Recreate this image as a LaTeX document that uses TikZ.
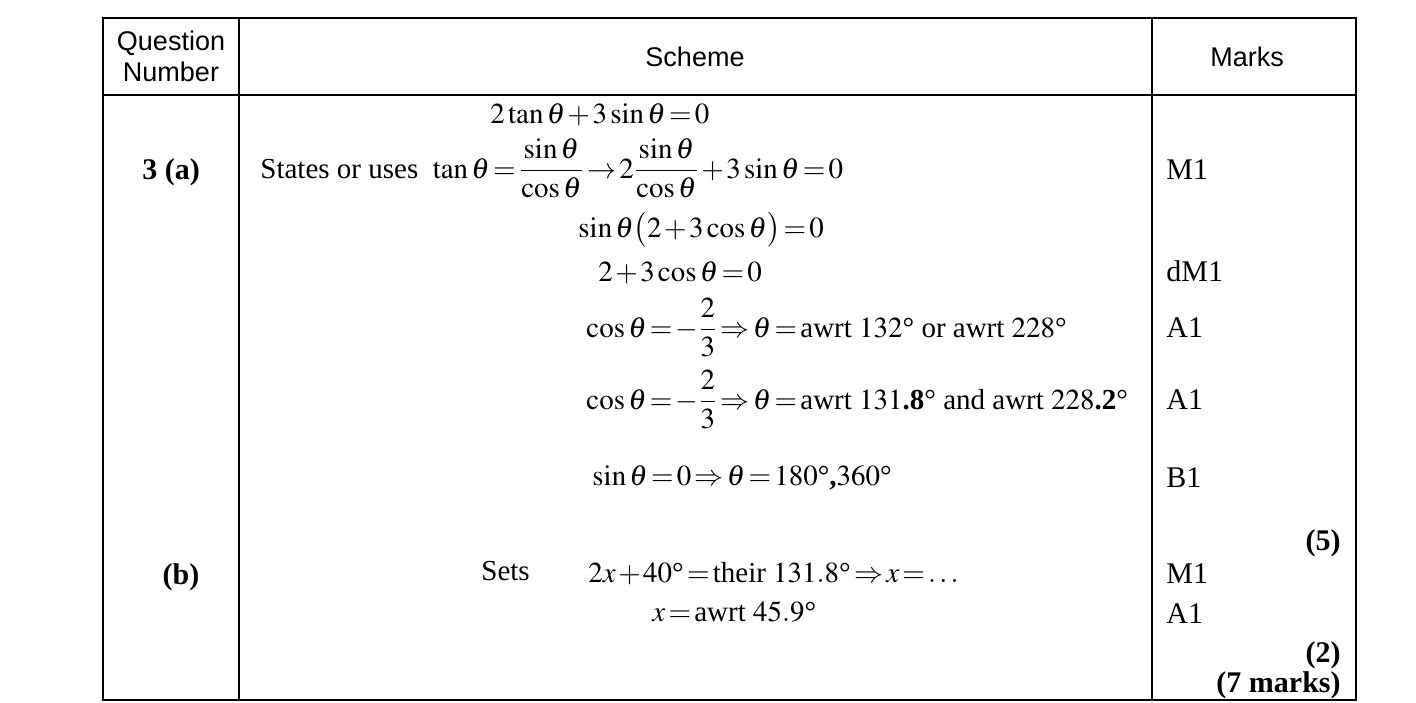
\documentclass[tikz,border=0pt]{standalone}
\usepackage{amsmath,amssymb}
\usepackage{mathptmx}
\usepackage{fontspec}
\setmainfont{Liberation Serif}
\setsansfont{Liberation Sans}
\usepackage{tikz}
\usetikzlibrary{positioning}

% tight spacing in the formulas
\thinmuskip=2mu
\medmuskip=1.5mu plus 1mu
\thickmuskip=2mu plus 2mu
\newcommand{\dg}{\text{°}}

\tikzset{
  head/.style={font=\sffamily\fontsize{13.5}{16}\selectfont},
  sch/.style={anchor=base west, inner sep=0pt, font=\fontsize{14.5}{17}\selectfont},
  mrk/.style={anchor=base west, inner sep=0pt, font=\fontsize{15}{18}\selectfont},
  tot/.style={anchor=base east, inner sep=0pt, font=\bfseries\fontsize{15}{18}\selectfont},
  qn/.style={anchor=base, inner sep=0pt, font=\bfseries\fontsize{15}{18}\selectfont},
  rule/.style={line width=1pt}
}

\begin{document}
\begin{tikzpicture}[x=0.5pt,y=-0.5pt]
    \useasboundingbox (0,0) rectangle (1416,702);

    % Table
    \draw[rule] (103,18) rectangle (1356,700);
    \draw[rule] (103,95) -- (1356,95);
    \draw[rule] (239,18) -- (239,700);
    \draw[rule] (1152,18) -- (1152,700);

    % Header
    \node[head] (question) at (171,43) {Question};
    \node[head] (number) at (171,72) {Number};
    \node[head] (scheme) at (695,57) {Scheme};
    \node[head] (marks) at (1247,57) {Marks};

    % Part (a)
    \node[qn] (qa) at (171,179) {3 (a)};
    \node[sch] (s1) at (490,123) {$2\tan\theta+3\sin\theta=0$};
    \node[sch] (s2) at (260,178) {States or uses\ \ $\tan\theta=\dfrac{\sin\theta}{\cos\theta}\rightarrow 2\dfrac{\sin\theta}{\cos\theta}+3\sin\theta=0$};
    \node[sch] (s3) at (578,237) {$\sin\theta\bigl(2+3\cos\theta\bigr)=0$};
    \node[sch] (s4) at (598,281) {$2+3\cos\theta=0$};
    \node[sch] (s5) at (586,337) {$\cos\theta=-\dfrac{2}{3}\Rightarrow\theta=\text{awrt }132\dg\text{ or awrt }228\dg$};
    \node[sch] (s6) at (586,409) {$\cos\theta=-\dfrac{2}{3}\Rightarrow\theta=\text{awrt }131\textbf{.8}\dg\text{ and awrt }228\textbf{.2}\dg$};
    \node[sch] (s7) at (592,485) {$\sin\theta=0\Rightarrow\theta=180\dg\textbf{,}360\dg$};

    % Part (b)
    \node[qn] (qb) at (181,584) {(b)};
    \node[sch] (sets) at (481,580) {Sets};
    \node[sch] (s8) at (588,582) {$2x+40\dg=\text{their }131.8\dg\Rightarrow x=\ldots$};
    \node[sch] (s9) at (652,621) {$x=\text{awrt }45.9\dg$};

    % Marks
    \foreach \y/\m [count=\i] in {179/M1,281/dM1,337/A1,409/A1,487/B1,583/M1,623/A1}
        \node[mrk] (m\i) at (1166,\y) {\m};
    \node[tot] (t5) at (1341,550) {(5)};
    \node[tot] (t2) at (1341,662) {(2)};
    \node[tot] (t7) at (1341,692) {(7 marks)};
\end{tikzpicture}
\end{document}
